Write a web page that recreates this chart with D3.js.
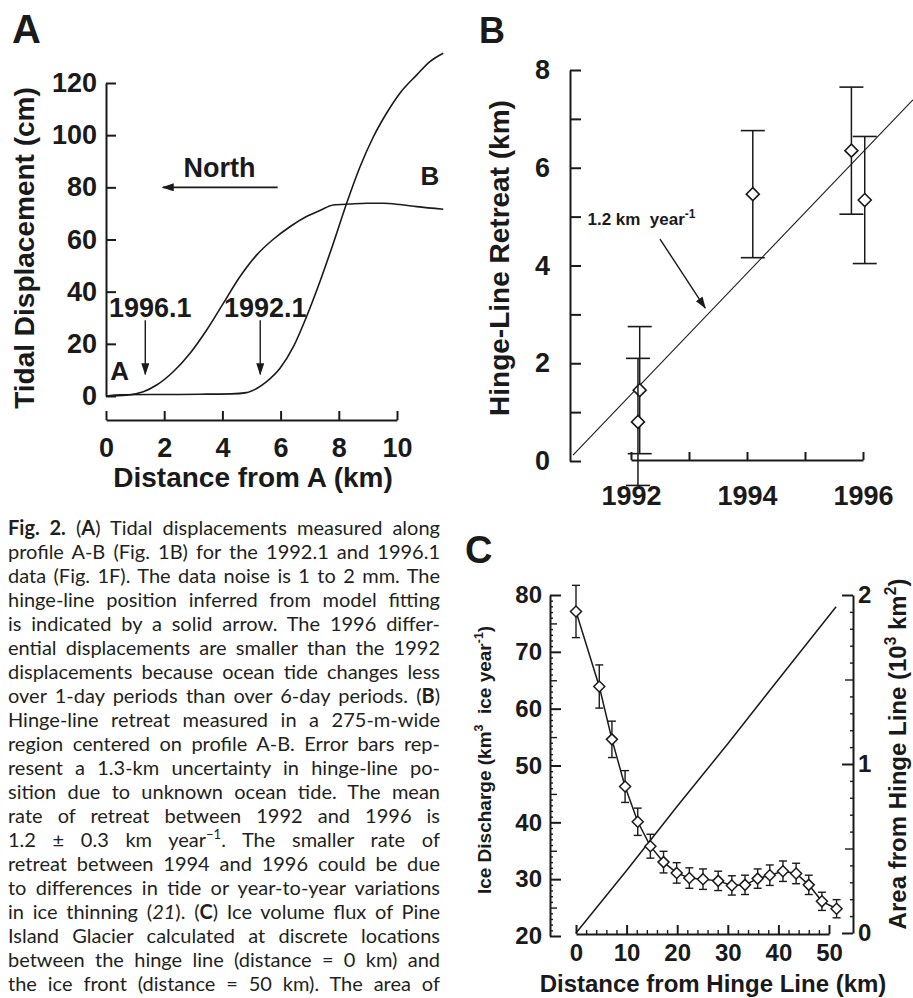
<!DOCTYPE html>
<html>
<head>
<meta charset="utf-8">
<script src="https://cdn.jsdelivr.net/npm/d3@7"></script>
<style>
  body { margin: 0; background: #fff; }
  svg { display: block; }
</style>
</head>
<body>
<svg id="fig" width="913" height="998"></svg>
<script>
// ************************** DATA **************************//

// panel A: tidal displacement along profile A-B (km, cm)
var dist1996 = [0, 0.71, 1.28, 1.74, 2.31, 2.89, 3.46, 4.03, 4.6, 5.18, 5.75, 6.32, 6.89, 7.35, 7.81, 8.38, 8.96, 9.53, 10.1, 10.68, 11.59];
var disp1996 = [0, 0.3, 1.6, 4.2, 9.3, 16.4, 25.3, 35.5, 45.7, 54.1, 60.1, 64.9, 68.8, 71.1, 73.2, 73.6, 73.9, 73.9, 73.4, 72.6, 71.6];
var dist1992 = [0, 0.5, 1.5, 2.5, 3.5, 4.3, 4.83, 5.18, 5.52, 5.98, 6.44, 6.89, 7.35, 7.81, 8.27, 8.73, 9.19, 9.64, 10.1, 10.68, 11.13, 11.59];
var disp1992 = [0, 0.5, 0.6, 0.6, 0.7, 0.8, 1.3, 2.9, 5.5, 10.6, 18.9, 30.4, 43.8, 58.5, 73.9, 87.9, 99.4, 108.4, 116.1, 123.1, 128.2, 131.4];
var hingeLabels = ["1996.1", "1992.1"];
var hingeKm = [1.35, 5.3];
var xTicksA = [0, 2, 4, 6, 8, 10];
var yTicksA = [0, 20, 40, 60, 80, 100, 120];

// panel B: hinge-line retreat (year, km, +/- km)
var yearsB = [1992.15, 1992.12, 1994.1, 1995.8, 1996.03];
var retreatB = [1.45, 0.8, 5.46, 6.35, 5.34];
var errB = [1.3, 1.3, 1.3, 1.3, 1.3];
var fitYears = [1991.0, 1996.86];
var fitKm = [0.12, 7.39];
var xTicksB = [1992, 1993, 1994, 1995, 1996];
var yTicksB = [0, 1, 2, 3, 4, 5, 6, 7, 8];

// panel C: ice discharge and area vs distance from hinge line
var distC = [0, 4.6, 7.1, 9.7, 12.2, 14.7, 17.3, 19.9, 22.4, 25.1, 28.1, 30.8, 33.4, 35.9, 38.3, 40.9, 43.5, 46.0, 48.6, 51.5];
var dischargeC = [77.1, 63.9, 54.6, 46.3, 40.1, 35.8, 33.0, 31.1, 30.2, 30.0, 29.7, 28.9, 29.0, 30.1, 30.7, 31.4, 31.0, 29.0, 26.1, 24.8];
var errC = [4.6, 3.8, 3.2, 2.8, 2.4, 2.1, 1.9, 1.8, 1.8, 1.8, 1.7, 1.7, 1.7, 1.7, 1.8, 1.8, 1.8, 1.7, 1.6, 1.6];
var areaDist = [0, 10, 20, 30, 40, 51.4];
var areaC = [0, 0.37, 0.75, 1.12, 1.5, 1.93];
var xTicksC = [0, 10, 20, 30, 40, 50];
var yTicksCL = [20, 30, 40, 50, 60, 70, 80];
var yTicksCR = [0, 1, 2];

var captionLines = [
  "**Fig. 2.** (**A**) Tidal displacements measured along",
  "profile A-B (Fig. 1B) for the 1992.1 and 1996.1",
  "data (Fig. 1F). The data noise is 1 to 2 mm. The",
  "hinge-line position inferred from model fitting",
  "is indicated by a solid arrow. The 1996 differ-",
  "ential displacements are smaller than the 1992",
  "displacements because ocean tide changes less",
  "over 1-day periods than over 6-day periods. (**B**)",
  "Hinge-line retreat measured in a 275-m-wide",
  "region centered on profile A-B. Error bars rep-",
  "resent a 1.3-km uncertainty in hinge-line po-",
  "sition due to unknown ocean tide. The mean",
  "rate of retreat between 1992 and 1996 is",
  "1.2 ± 0.3 km year^−1^. The smaller rate of",
  "retreat between 1994 and 1996 could be due",
  "to differences in tide or year-to-year variations",
  "in ice thinning (_21_). (**C**) Ice volume flux of Pine",
  "Island Glacier calculated at discrete locations",
  "between the hinge line (distance = 0 km) and",
  "the ice front (distance = 50 km). The area of"
];

// ************************** SETUP **************************//

var FONT = "'Liberation Sans', Arial, Helvetica, sans-serif";
var INK = "#1a1a1a";
var svg = d3.select("#fig")
  .attr("font-family", FONT)
  .attr("font-weight", "bold")
  .attr("fill", INK);

svg.append("defs").append("marker")
  .attr("id", "head")
  .attr("viewBox", "0 0 12 8")
  .attr("refX", 11).attr("refY", 4)
  .attr("markerWidth", 12).attr("markerHeight", 8)
  .attr("markerUnits", "userSpaceOnUse")
  .attr("orient", "auto")
  .append("path").attr("d", "M0,0 L12,4 L0,8 Z").attr("fill", INK);

function styleAxis(g, fs) {
  g.attr("font-family", FONT).attr("font-size", fs).attr("font-weight", "bold");
  g.selectAll("path.domain").attr("stroke", INK).attr("stroke-width", 2);
  g.selectAll(".tick line").attr("stroke", INK).attr("stroke-width", 2);
  g.selectAll(".tick text").attr("fill", INK);
}
function minor(g) {
  g.select("path.domain").remove();
  g.selectAll(".tick line").attr("stroke", INK).attr("stroke-width", 1.4);
}
function diamond(r) {
  return "M0," + (-r) + "L" + r + ",0L0," + r + "L" + (-r) + ",0Z";
}
function label(x, y, txt, fs, rot) {
  return svg.append("text")
    .attr("transform", "translate(" + x + "," + y + ")" + (rot ? " rotate(-90)" : ""))
    .attr("text-anchor", "middle")
    .attr("font-size", fs)
    .text(txt);
}

// panel letters
svg.append("text").attr("x", 12).attr("y", 43).attr("font-size", 40).text("A");
svg.append("text").attr("x", 479).attr("y", 43).attr("font-size", 36).text("B");
svg.append("text").attr("x", 465).attr("y", 563).attr("font-size", 38).text("C");

// ************************** PANEL A **************************//

var xA = d3.scaleLinear().domain([0, 10]).range([106, 397]);
var yA = d3.scaleLinear().domain([0, 120]).range([396, 83]);

svg.append("g").attr("transform", "translate(106,0)")
  .call(d3.axisLeft(yA).tickValues(yTicksA).tickSize(-10).tickSizeOuter(0).tickPadding(9))
  .call(styleAxis, 27);

svg.append("g").attr("transform", "translate(0,420)")
  .call(d3.axisBottom(xA).tickValues(xTicksA).tickSize(-9).tickSizeOuter(0).tickPadding(18))
  .call(styleAxis, 27);

var lineA = d3.line().curve(d3.curveMonotoneX)
  .x(function (d) { return xA(d[0]); })
  .y(function (d) { return yA(d[1]); });

[[dist1996, disp1996], [dist1992, disp1992]].forEach(function (s) {
  svg.append("path")
    .datum(d3.zip(s[0], s[1]))
    .attr("fill", "none").attr("stroke", INK).attr("stroke-width", 1.6)
    .attr("d", lineA);
});

// hinge-line arrows
hingeKm.forEach(function (k, i) {
  svg.append("line")
    .attr("x1", xA(k)).attr("x2", xA(k))
    .attr("y1", yA(29)).attr("y2", yA(8.3))
    .attr("stroke", INK).attr("stroke-width", 1.4)
    .attr("marker-end", "url(#head)");
  svg.append("text")
    .attr("x", xA(k) + 5).attr("y", yA(30.3))
    .attr("text-anchor", "middle").attr("font-size", 27)
    .text(hingeLabels[i]);
});

// north arrow
svg.append("line")
  .attr("x1", xA(5.9)).attr("x2", xA(1.95))
  .attr("y1", yA(80)).attr("y2", yA(80))
  .attr("stroke", INK).attr("stroke-width", 1.6)
  .attr("marker-end", "url(#head)");
svg.append("text").attr("x", xA(3.9)).attr("y", yA(84)).attr("text-anchor", "middle")
  .attr("font-size", 27).text("North");
svg.append("text").attr("x", xA(11.13)).attr("y", yA(81)).attr("text-anchor", "middle")
  .attr("font-size", 26).text("B");
svg.append("text").attr("x", xA(0.15)).attr("y", yA(6)).attr("font-size", 26).text("A");

label(34, 248, "Tidal Displacement (cm)", 28, true);
label(253, 487, "Distance from A (km)", 28, false);

// ************************** PANEL B **************************//

var xB = d3.scaleLinear().domain([1992, 1996]).range([631, 863]);
var yB = d3.scaleLinear().domain([0, 8]).range([461, 70]);

svg.append("g").attr("transform", "translate(570,0)")
  .call(d3.axisLeft(yB).tickValues(yTicksB).tickSize(-11).tickSizeOuter(0).tickPadding(20)
    .tickFormat(function (d) { return d % 2 ? "" : d; }))
  .call(styleAxis, 27);

svg.append("g").attr("transform", "translate(0,460)")
  .call(d3.axisBottom(xB).tickValues(xTicksB).tickSize(-8).tickSizeOuter(0).tickPadding(26)
    .tickFormat(function (d) { return d % 2 ? "" : d; }))
  .call(styleAxis, 27);

// fit line
svg.append("line")
  .attr("x1", xB(fitYears[0])).attr("y1", yB(fitKm[0]))
  .attr("x2", xB(fitYears[1])).attr("y2", yB(fitKm[1]))
  .attr("stroke", INK).attr("stroke-width", 1.1);

var ptsB = svg.append("g").selectAll("g").data(d3.range(yearsB.length)).join("g");
ptsB.append("line")
  .attr("x1", function (i) { return xB(yearsB[i]); })
  .attr("x2", function (i) { return xB(yearsB[i]); })
  .attr("y1", function (i) { return yB(retreatB[i] + errB[i]); })
  .attr("y2", function (i) { return yB(retreatB[i] - errB[i]); })
  .attr("stroke", INK).attr("stroke-width", 1.5);
[1, -1].forEach(function (sgn) {
  ptsB.append("line")
    .attr("x1", function (i) { return xB(yearsB[i]) - 12; })
    .attr("x2", function (i) { return xB(yearsB[i]) + 12; })
    .attr("y1", function (i) { return yB(retreatB[i] + sgn * errB[i]); })
    .attr("y2", function (i) { return yB(retreatB[i] + sgn * errB[i]); })
    .attr("stroke", INK).attr("stroke-width", 1.6);
});
ptsB.append("path")
  .attr("transform", function (i) { return "translate(" + xB(yearsB[i]) + "," + yB(retreatB[i]) + ")"; })
  .attr("d", diamond(6.5))
  .attr("fill", "#fff").attr("stroke", INK).attr("stroke-width", 1.6);

// rate annotation
var rate = svg.append("text").attr("x", xB(1991.25)).attr("y", yB(4.83))
  .attr("font-size", 17).style("white-space", "pre");
rate.append("tspan").text("1.2 km  year");
rate.append("tspan").attr("font-size", 12).attr("dy", -7).text("-1");
svg.append("line")
  .attr("x1", xB(1992.5)).attr("y1", yB(4.54))
  .attr("x2", xB(1993.28)).attr("y2", yB(3.13))
  .attr("stroke", INK).attr("stroke-width", 1.4)
  .attr("marker-end", "url(#head)");

label(509, 258, "Hinge-Line Retreat (km)", 28, true);

// ************************** PANEL C **************************//

var xC = d3.scaleLinear().domain([0, 50]).range([576, 829]);
var yCL = d3.scaleLinear().domain([20, 80]).range([936, 595]);
var yCR = d3.scaleLinear().domain([0, 2]).range([933, 595]);

// left axis: tiny ticks every unit, medium every 5, major every 10
svg.append("g").attr("transform", "translate(550,0)")
  .call(d3.axisLeft(yCL).tickValues(d3.range(21, 80).filter(function (d) { return d % 5; })).tickSize(-3).tickFormat(""))
  .call(minor);
svg.append("g").attr("transform", "translate(550,0)")
  .call(d3.axisLeft(yCL).tickValues(d3.range(25, 80, 10)).tickSize(-7).tickFormat(""))
  .call(minor);
svg.append("g").attr("transform", "translate(550,0)")
  .call(d3.axisLeft(yCL).tickValues(yTicksCL).tickSize(-11).tickSizeOuter(0).tickPadding(8))
  .call(styleAxis, 24);

// right axis
svg.append("g").attr("transform", "translate(853,0)")
  .call(d3.axisRight(yCR).tickValues(d3.range(1, 20).filter(function (d) { return d % 5; }).map(function (d) { return d / 10; }))
    .tickSize(-3).tickFormat(""))
  .call(minor);
svg.append("g").attr("transform", "translate(853,0)")
  .call(d3.axisRight(yCR).tickValues([0.5, 1.5]).tickSize(-8).tickFormat(""))
  .call(minor);
svg.append("g").attr("transform", "translate(853,0)")
  .call(d3.axisRight(yCR).tickValues(yTicksCR).tickSize(-11).tickSizeOuter(0).tickPadding(5)
    .tickFormat(d3.format("d")))
  .call(styleAxis, 24);

// bottom axis
svg.append("g").attr("transform", "translate(0,934)")
  .call(d3.axisBottom(xC).tickValues(d3.range(2, 50, 2).filter(function (d) { return d % 10; })).tickSize(-4).tickFormat(""))
  .call(minor);
svg.append("g").attr("transform", "translate(0,934)")
  .call(d3.axisBottom(xC).tickValues(xTicksC).tickSize(-9).tickSizeOuter(0).tickPadding(10))
  .call(styleAxis, 24);

// area line (right axis)
svg.append("path")
  .datum(d3.zip(areaDist, areaC))
  .attr("fill", "none").attr("stroke", INK).attr("stroke-width", 1.5)
  .attr("d", d3.line().x(function (d) { return xC(d[0]); }).y(function (d) { return yCR(d[1]); }));

// discharge line + error bars + diamonds
svg.append("path")
  .datum(d3.zip(distC, dischargeC))
  .attr("fill", "none").attr("stroke", INK).attr("stroke-width", 1.5)
  .attr("d", d3.line().x(function (d) { return xC(d[0]); }).y(function (d) { return yCL(d[1]); }));

var ptsC = svg.append("g").selectAll("g").data(d3.range(distC.length)).join("g");
ptsC.append("line")
  .attr("x1", function (i) { return xC(distC[i]); })
  .attr("x2", function (i) { return xC(distC[i]); })
  .attr("y1", function (i) { return yCL(dischargeC[i] + errC[i]); })
  .attr("y2", function (i) { return yCL(dischargeC[i] - errC[i]); })
  .attr("stroke", INK).attr("stroke-width", 1.4);
[1, -1].forEach(function (sgn) {
  ptsC.append("line")
    .attr("x1", function (i) { return xC(distC[i]) - 4; })
    .attr("x2", function (i) { return xC(distC[i]) + 4; })
    .attr("y1", function (i) { return yCL(dischargeC[i] + sgn * errC[i]); })
    .attr("y2", function (i) { return yCL(dischargeC[i] + sgn * errC[i]); })
    .attr("stroke", INK).attr("stroke-width", 1.4);
});
ptsC.append("path")
  .attr("transform", function (i) { return "translate(" + xC(distC[i]) + "," + yCL(dischargeC[i]) + ")"; })
  .attr("d", diamond(5.5))
  .attr("fill", "#fff").attr("stroke", INK).attr("stroke-width", 1.5);

// axis titles with superscripts
function supLabel(x, y, fs, parts) {
  var t = svg.append("text")
    .attr("transform", "translate(" + x + "," + y + ") rotate(-90)")
    .attr("text-anchor", "middle").attr("font-size", fs)
    .style("white-space", "pre");
  var up = false;
  parts.forEach(function (p) {
    var ts = t.append("tspan").text(p[0]);
    if (p[1]) { ts.attr("font-size", fs * 0.65).attr("dy", -fs * 0.4); up = true; }
    else if (up) { ts.attr("dy", fs * 0.4); up = false; }
  });
}
supLabel(491, 760, 19, [["Ice Discharge (km"], ["3", 1], ["  ice year"], ["-1", 1], [")"]]);
supLabel(906, 754, 24, [["Area from Hinge Line (10"], ["3", 1], [" km"], ["2", 1], [")"]]);
label(713, 992, "Distance from Hinge Line (km)", 24, false);

// ************************** CAPTION **************************//

var capX = 8, capW = 432, capY0 = 535, capDy = 24;
var capG = svg.append("g")
  .attr("font-family", "Lato, 'Open Sans', sans-serif")
  .attr("font-weight", "normal")
  .attr("font-size", 20)
  .attr("fill", "#231f20");

captionLines.forEach(function (line, i) {
  var t = capG.append("text").attr("x", capX).attr("y", capY0 + i * capDy);
  var parts = line.split(/(\*\*[^*]+\*\*|_[^_]+_|\^[^^]+\^)/).filter(function (s) { return s.length; });
  var up = false;
  parts.forEach(function (p) {
    var ts = t.append("tspan");
    if (p.indexOf("**") === 0) ts.attr("font-weight", "bold").text(p.slice(2, -2));
    else if (p[0] === "_") ts.attr("font-style", "italic").text(p.slice(1, -1));
    else if (p[0] === "^") { ts.attr("font-size", 13).attr("dy", -8).text(p.slice(1, -1)); up = true; return; }
    else ts.text(p);
    if (up) { ts.attr("dy", 8); up = false; }
  });
  var w = t.node().getComputedTextLength();
  var spaces = (line.match(/ /g) || []).length;
  if (spaces) t.attr("word-spacing", (capW - w) / spaces);
});
</script>
</body>
</html>
